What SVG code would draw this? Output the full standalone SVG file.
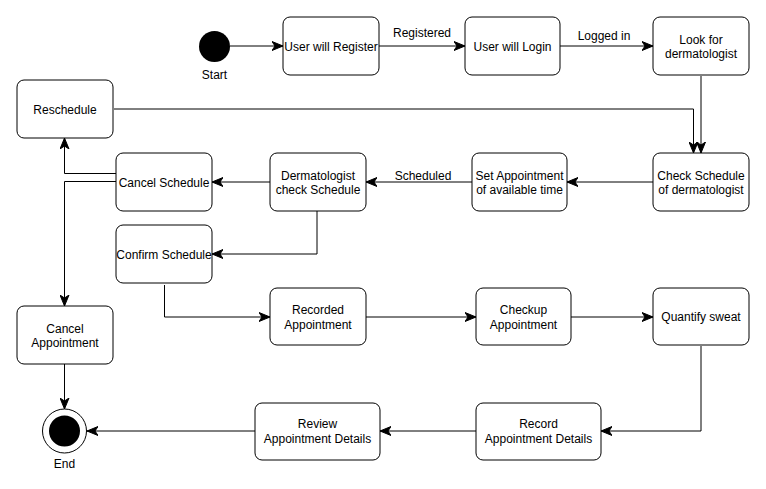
<svg xmlns="http://www.w3.org/2000/svg" width="766" height="489" viewBox="0 0 766 489">
<style>
.n rect{fill:#fff;stroke:#000;stroke-width:1}
text{font-family:"Liberation Sans",Arial,sans-serif;font-size:12px;fill:#000;text-anchor:middle}
.e{fill:none;stroke:#000;stroke-width:1;marker-end:url(#a)}
</style>
<defs>
<marker id="a" markerUnits="userSpaceOnUse" markerWidth="12" markerHeight="10" viewBox="0 0 12 10" refX="11" refY="5" orient="auto">
<path d="M0,0.5 L11,5 L0,9.5 L3,5 Z" fill="#000" stroke="#000" stroke-width="1" stroke-linejoin="miter"/>
</marker>
</defs>
<rect width="766" height="489" fill="#fff"/>
<g id="connectors">
<path class="e" d="M230,46 H283"/>
<path class="e" d="M379,46 H465"/>
<path class="e" d="M560,46 H653"/>
<path class="e" d="M701,76 V153"/>
<path class="e" d="M114,109 H693.5 V153"/>
<path class="e" d="M653,182 H567"/>
<path class="e" d="M472,182 H366"/>
<path class="e" d="M270,182 H212"/>
<path class="e" d="M116,173.5 H64.5 V138"/>
<path class="e" d="M116,181.5 H64.5 V306"/>
<path class="e" d="M317,211 V254 H212"/>
<path class="e" d="M164.5,285 V317 H270"/>
<path class="e" d="M366,317 H476"/>
<path class="e" d="M571,317 H653"/>
<path class="e" d="M701,346 V431 H601"/>
<path class="e" d="M476,431 H380"/>
<path class="e" d="M255,431 H87"/>
<path class="e" d="M64.5,364 V409"/>
<text x="422" y="37">Registered</text>
<text x="604" y="40">Logged in</text>
<text x="423" y="180">Scheduled</text>
</g>
<g id="start"><circle cx="214.5" cy="46.5" r="15.5" fill="#000"/><text x="214.5" y="79">Start</text></g>
<g id="end"><circle cx="64.5" cy="431" r="22" fill="#fff" stroke="#000"/><circle cx="64.5" cy="431" r="15.5" fill="#000"/><text x="64.5" y="468">End</text></g>
<g id="register" class="n"><rect x="283" y="17" width="96" height="58" rx="7"/><text x="331" y="50.5">User will Register</text></g>
<g id="login" class="n"><rect x="465" y="17" width="95" height="58" rx="7"/><text x="512.5" y="50.5">User will Login</text></g>
<g id="look" class="n"><rect x="653" y="17" width="96" height="58" rx="7"/><text x="701" y="44">Look for</text><text x="701" y="58">dermatologist</text></g>
<g id="reschedule" class="n"><rect x="17" y="80" width="96" height="58" rx="7"/><text x="65" y="113.5">Reschedule</text></g>
<g id="check" class="n"><rect x="653" y="153" width="96" height="58" rx="7"/><text x="701" y="180">Check Schedule</text><text x="701" y="194">of dermatologist</text></g>
<g id="setappt" class="n"><rect x="472" y="153" width="95" height="58" rx="7"/><text x="519.5" y="180">Set Appointment</text><text x="519.5" y="194">of available time</text></g>
<g id="dermcheck" class="n"><rect x="270" y="153" width="96" height="58" rx="7"/><text x="318" y="180">Dermatologist</text><text x="318" y="194">check Schedule</text></g>
<g id="cancelsched" class="n"><rect x="116" y="153" width="96" height="58" rx="7"/><text x="164" y="186.5">Cancel Schedule</text></g>
<g id="confirm" class="n"><rect x="116" y="225" width="96" height="58" rx="7"/><text x="164" y="258.5">Confirm Schedule</text></g>
<g id="recorded" class="n"><rect x="270" y="288" width="96" height="57" rx="7"/><text x="318" y="314">Recorded</text><text x="318" y="329">Appointment</text></g>
<g id="cancelappt" class="n"><rect x="17" y="306" width="96" height="58" rx="7"/><text x="65" y="333">Cancel</text><text x="65" y="347">Appointment</text></g>
<g id="checkup" class="n"><rect x="476" y="288" width="95" height="57" rx="7"/><text x="523.5" y="314">Checkup</text><text x="523.5" y="329">Appointment</text></g>
<g id="quantify" class="n"><rect x="653" y="288" width="96" height="57" rx="7"/><text x="701" y="321">Quantify sweat</text></g>
<g id="recorddetails" class="n"><rect x="476" y="403" width="125" height="57" rx="7"/><text x="538.5" y="428">Record</text><text x="538.5" y="443">Appointment Details</text></g>
<g id="review" class="n"><rect x="255" y="403" width="125" height="57" rx="7"/><text x="317.5" y="428">Review</text><text x="317.5" y="443">Appointment Details</text></g>
</svg>
